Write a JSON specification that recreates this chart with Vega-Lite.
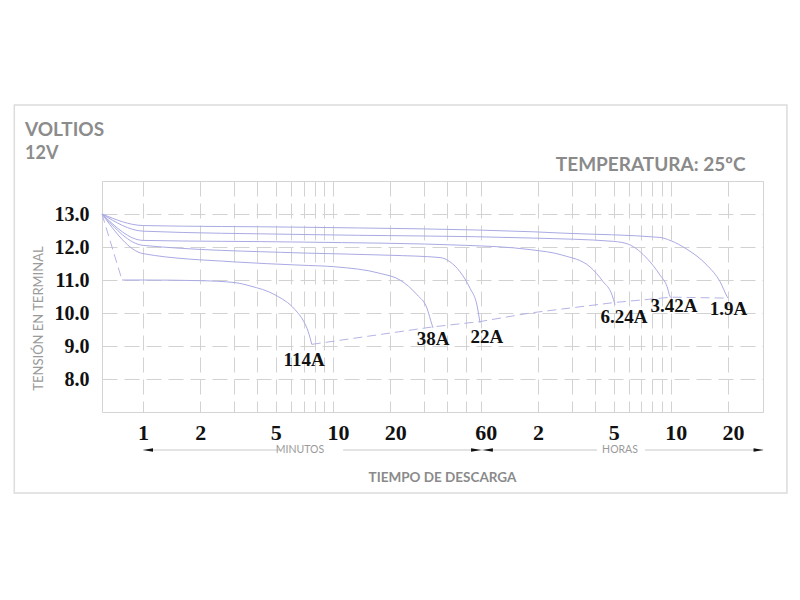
{
  "$schema": "https://vega.github.io/schema/vega-lite/v6.json",
  "width": 661,
  "height": 231,
  "autosize": "none",
  "padding": {"left": 102, "top": 181, "right": 37, "bottom": 188},
  "background": "white",
  "title": {
    "text": "VOLTIOS",
    "subtitle": "12V",
    "anchor": "start",
    "frame": "group",
    "dx": -77,
    "offset": -59,
    "font": "Lato",
    "fontSize": 19,
    "fontWeight": "bold",
    "color": "#8c8c8c",
    "subtitleFont": "Lato",
    "subtitleFontSize": 18,
    "subtitleFontWeight": "bold",
    "subtitleColor": "#8c8c8c",
    "subtitlePadding": 5
  },
  "config": {
    "view": {"stroke": "#d4d4d4", "strokeWidth": 1},
    "axis": {"gridColor": "#d2d2d2", "gridDash": [15, 7], "gridWidth": 1}
  },
  "datasets": {
    "curvas": [
      {"serie": "114A", "t": 0.775, "v": 11.0},
      {"serie": "114A", "t": 1, "v": 11.0},
      {"serie": "114A", "t": 2, "v": 10.98},
      {"serie": "114A", "t": 3.05, "v": 10.92},
      {"serie": "114A", "t": 3.66, "v": 10.82},
      {"serie": "114A", "t": 4.95, "v": 10.55},
      {"serie": "114A", "t": 6.31, "v": 10.1},
      {"serie": "114A", "t": 7.0, "v": 9.75},
      {"serie": "114A", "t": 7.41, "v": 9.43},
      {"serie": "114A", "t": 7.73, "v": 9.05},
      {"serie": "38A", "t": 0.608, "v": 13.0},
      {"serie": "38A", "t": 1, "v": 11.8},
      {"serie": "38A", "t": 3, "v": 11.55},
      {"serie": "38A", "t": 6.7, "v": 11.45},
      {"serie": "38A", "t": 10.25, "v": 11.4},
      {"serie": "38A", "t": 17.7, "v": 11.2},
      {"serie": "38A", "t": 22.5, "v": 11.0},
      {"serie": "38A", "t": 27.7, "v": 10.55},
      {"serie": "38A", "t": 31.2, "v": 10.15},
      {"serie": "38A", "t": 33.2, "v": 9.64},
      {"serie": "38A", "t": 33.6, "v": 9.55},
      {"serie": "22A", "t": 0.608, "v": 13.0},
      {"serie": "22A", "t": 1, "v": 12.05},
      {"serie": "22A", "t": 6.7, "v": 11.82},
      {"serie": "22A", "t": 20, "v": 11.75},
      {"serie": "22A", "t": 36.6, "v": 11.68},
      {"serie": "22A", "t": 41.3, "v": 11.55},
      {"serie": "22A", "t": 46.6, "v": 11.25},
      {"serie": "22A", "t": 52.6, "v": 10.75},
      {"serie": "22A", "t": 57.2, "v": 10.24},
      {"serie": "22A", "t": 59.4, "v": 9.7},
      {"serie": "6.24A", "t": 0.608, "v": 13.0},
      {"serie": "6.24A", "t": 1, "v": 12.2},
      {"serie": "6.24A", "t": 6.7, "v": 12.15},
      {"serie": "6.24A", "t": 50, "v": 12.05},
      {"serie": "6.24A", "t": 109, "v": 11.92},
      {"serie": "6.24A", "t": 162, "v": 11.75},
      {"serie": "6.24A", "t": 225, "v": 11.4},
      {"serie": "6.24A", "t": 264, "v": 10.95},
      {"serie": "6.24A", "t": 294, "v": 10.55},
      {"serie": "6.24A", "t": 305, "v": 10.25},
      {"serie": "3.42A", "t": 0.608, "v": 13.0},
      {"serie": "3.42A", "t": 1, "v": 12.48},
      {"serie": "3.42A", "t": 6.7, "v": 12.38},
      {"serie": "3.42A", "t": 114, "v": 12.27},
      {"serie": "3.42A", "t": 300, "v": 12.17},
      {"serie": "3.42A", "t": 360, "v": 12.08},
      {"serie": "3.42A", "t": 455, "v": 11.62},
      {"serie": "3.42A", "t": 526, "v": 11.15},
      {"serie": "3.42A", "t": 573, "v": 10.8},
      {"serie": "3.42A", "t": 594, "v": 10.5},
      {"serie": "3.42A", "t": 605, "v": 10.45},
      {"serie": "1.9A", "t": 0.608, "v": 13.0},
      {"serie": "1.9A", "t": 1, "v": 12.65},
      {"serie": "1.9A", "t": 6.7, "v": 12.6},
      {"serie": "1.9A", "t": 114, "v": 12.46},
      {"serie": "1.9A", "t": 162, "v": 12.42},
      {"serie": "1.9A", "t": 526, "v": 12.29},
      {"serie": "1.9A", "t": 594, "v": 12.2},
      {"serie": "1.9A", "t": 730, "v": 11.93},
      {"serie": "1.9A", "t": 929, "v": 11.45},
      {"serie": "1.9A", "t": 1089, "v": 10.95},
      {"serie": "1.9A", "t": 1186, "v": 10.5},
      {"serie": "1.9A", "t": 1200, "v": 10.45}
    ],
    "corte": [
      {"serie": "inicio 114A", "t": 0.608, "v": 13.0},
      {"serie": "inicio 114A", "t": 0.775, "v": 11.0},
      {"serie": "tensión final", "t": 7.73, "v": 9.05},
      {"serie": "tensión final", "t": 33.6, "v": 9.58},
      {"serie": "tensión final", "t": 59.4, "v": 9.74},
      {"serie": "tensión final", "t": 109, "v": 10.0},
      {"serie": "tensión final", "t": 305, "v": 10.32},
      {"serie": "tensión final", "t": 605, "v": 10.48},
      {"serie": "tensión final", "t": 1200, "v": 10.45}
    ],
    "etiquetas": [
      {"label": "114A", "t": 7.04, "v": 8.59},
      {"label": "38A", "t": 33.6, "v": 9.21},
      {"label": "22A", "t": 64.5, "v": 9.27},
      {"label": "6.24A", "t": 340, "v": 9.89},
      {"label": "3.42A", "t": 623, "v": 10.2},
      {"label": "1.9A", "t": 1207, "v": 10.12}
    ],
    "flechas": [
      {"escala": "minutos", "t0": 1.0, "t1": 5.26},
      {"escala": "minutos", "t0": 11.3, "t1": 60},
      {"escala": "horas", "t0": 60, "t1": 245},
      {"escala": "horas", "t0": 439, "t1": 1833}
    ],
    "puntas": [
      {"t": 1.062, "dir": "izquierda"},
      {"t": 56.6, "dir": "derecha"},
      {"t": 65.3, "dir": "izquierda"},
      {"t": 1737, "dir": "derecha"}
    ],
    "escalas": [
      {"t": 6.7, "label": "MINUTOS"},
      {"t": 324, "label": "HORAS"}
    ],
    "marco": [
      {"x0": 0.21, "x1": 2450, "y0": 16.3, "y1": 4.545}
    ]
  },
  "resolve": {"axis": {"x": "independent", "y": "independent"}},
  "layer": [
    {
      "data": {"name": "marco"},
      "mark": {"type": "rect", "filled": false, "stroke": "#dcdcdc", "strokeWidth": 1.5},
      "encoding": {
        "x": {"field": "x0", "type": "quantitative", "scale": {"type": "log", "domain": [0.608, 1833], "nice": false}, "axis": null},
        "x2": {"field": "x1"},
        "y": {"field": "y0", "type": "quantitative", "scale": {"domain": [7, 14], "nice": false, "zero": false}, "axis": null},
        "y2": {"field": "y1"}
      }
    },
    {
      "data": {"name": "curvas"},
      "mark": {"type": "line", "color": "#aaaae4", "strokeWidth": 1, "interpolate": "monotone"},
      "encoding": {
        "x": {
          "field": "t", "type": "quantitative",
          "scale": {"type": "log", "domain": [0.608, 1833], "nice": false},
          "axis": {
            "values": [1, 2, 3, 4, 5, 6, 7, 8, 9, 10, 20, 30, 40, 50, 60, 120, 180, 240, 300, 360, 420, 480, 540, 600, 1200],
            "labelExpr": "datum.value == 1 ? '1' : datum.value == 2 ? '2' : datum.value == 5 ? '5' : datum.value == 10 ? '10' : datum.value == 20 ? '20' : datum.value == 60 ? '60' : datum.value == 120 ? '2' : datum.value == 300 ? '5' : datum.value == 600 ? '10' : datum.value == 1200 ? '20' : ''",
            "labelOverlap": false,
            "labelFlush": false,
            "labelBound": false,
            "ticks": false,
            "tickSize": 0,
            "domain": false,
            "grid": true,
            "labelFont": "Liberation Serif",
            "labelFontWeight": "bold",
            "labelFontSize": 22,
            "labelColor": "#111111",
            "labelPadding": 10,
            "labelOffset": {"condition": {"test": "datum.value == 10 || datum.value == 20 || datum.value == 60 || datum.value == 600 || datum.value == 1200", "value": 5}, "value": 0},
            "title": "TIEMPO DE DESCARGA",
            "titleFont": "Lato",
            "titleFontSize": 13.5,
            "titleFontWeight": "bold",
            "titleColor": "#8a8a8a",
            "titleX": 340,
            "titleY": 65,
            "titleAlign": "center",
            "titleBaseline": "middle"
          }
        },
        "y": {
          "field": "v", "type": "quantitative",
          "scale": {"domain": [7, 14], "nice": false, "zero": false},
          "axis": {
            "values": [8, 9, 10, 11, 12, 13],
            "format": ".1f",
            "ticks": false,
            "tickSize": 0,
            "domain": false,
            "grid": true,
            "labelFlush": false,
            "labelFont": "Liberation Serif",
            "labelFontWeight": "bold",
            "labelFontSize": 20,
            "labelColor": "#111111",
            "labelPadding": 13,
            "title": "TENSIÓN  EN TERMINAL",
            "titleFont": "Lato",
            "titleFontSize": 13,
            "titleFontWeight": "normal",
            "titleColor": "#9a9a9a",
            "titleX": -64,
            "titleY": 137,
            "titleAngle": 270,
            "titleAlign": "center",
            "titleBaseline": "middle"
          }
        },
        "detail": {"field": "serie"}
      }
    },
    {
      "data": {"name": "corte"},
      "mark": {"type": "line", "color": "#b4b4e6", "strokeWidth": 1, "strokeDash": [9, 5]},
      "encoding": {
        "x": {"field": "t", "type": "quantitative", "scale": {"type": "log", "domain": [0.608, 1833], "nice": false}, "axis": null},
        "y": {"field": "v", "type": "quantitative", "scale": {"domain": [7, 14], "nice": false, "zero": false}, "axis": null},
        "detail": {"field": "serie"}
      }
    },
    {
      "data": {"name": "etiquetas"},
      "mark": {"type": "text", "font": "Liberation Serif", "fontWeight": "bold", "fontSize": 19, "color": "#111111", "align": "center", "baseline": "middle"},
      "encoding": {
        "x": {
          "field": "t", "type": "quantitative",
          "scale": {"type": "log", "domain": [0.608, 1833], "nice": false},
          "axis": {
            "orient": "top",
            "values": [],
            "labels": false,
            "ticks": false,
            "domain": false,
            "grid": false,
            "title": "TEMPERATURA: 25ºC",
            "titleX": 643,
            "titleY": -17,
            "titleAlign": "right",
            "titleBaseline": "middle",
            "titleFont": "Lato",
            "titleFontSize": 19,
            "titleFontWeight": "bold",
            "titleColor": "#8a8a8a"
          }
        },
        "y": {"field": "v", "type": "quantitative", "scale": {"domain": [7, 14], "nice": false, "zero": false}, "axis": null},
        "text": {"field": "label"}
      }
    },
    {
      "data": {"name": "flechas"},
      "mark": {"type": "rule", "color": "#c8c8c8", "strokeWidth": 1, "yOffset": 38},
      "encoding": {
        "x": {"field": "t0", "type": "quantitative", "scale": {"type": "log", "domain": [0.608, 1833], "nice": false}, "axis": null},
        "x2": {"field": "t1"},
        "y": {"datum": 7, "type": "quantitative", "scale": {"domain": [7, 14], "nice": false, "zero": false}, "axis": null}
      }
    },
    {
      "data": {"name": "puntas"},
      "mark": {"type": "point", "filled": true, "color": "#111111", "opacity": 1, "size": 100, "yOffset": 38},
      "encoding": {
        "x": {"field": "t", "type": "quantitative", "scale": {"type": "log", "domain": [0.608, 1833], "nice": false}, "axis": null},
        "y": {"datum": 7, "type": "quantitative", "scale": {"domain": [7, 14], "nice": false, "zero": false}, "axis": null},
        "shape": {"field": "dir", "type": "nominal", "scale": {"domain": ["izquierda", "derecha"], "range": ["M1,-0.35L-1,0L1,0.35Z", "M-1,-0.35L1,0L-1,0.35Z"]}, "legend": null}
      }
    },
    {
      "data": {"name": "escalas"},
      "mark": {"type": "text", "font": "Lato", "fontSize": 10.5, "color": "#9a9a9a", "align": "center", "baseline": "middle", "yOffset": 38},
      "encoding": {
        "x": {"field": "t", "type": "quantitative", "scale": {"type": "log", "domain": [0.608, 1833], "nice": false}, "axis": null},
        "y": {"datum": 7, "type": "quantitative", "scale": {"domain": [7, 14], "nice": false, "zero": false}, "axis": null},
        "text": {"field": "label"}
      }
    }
  ]
}
